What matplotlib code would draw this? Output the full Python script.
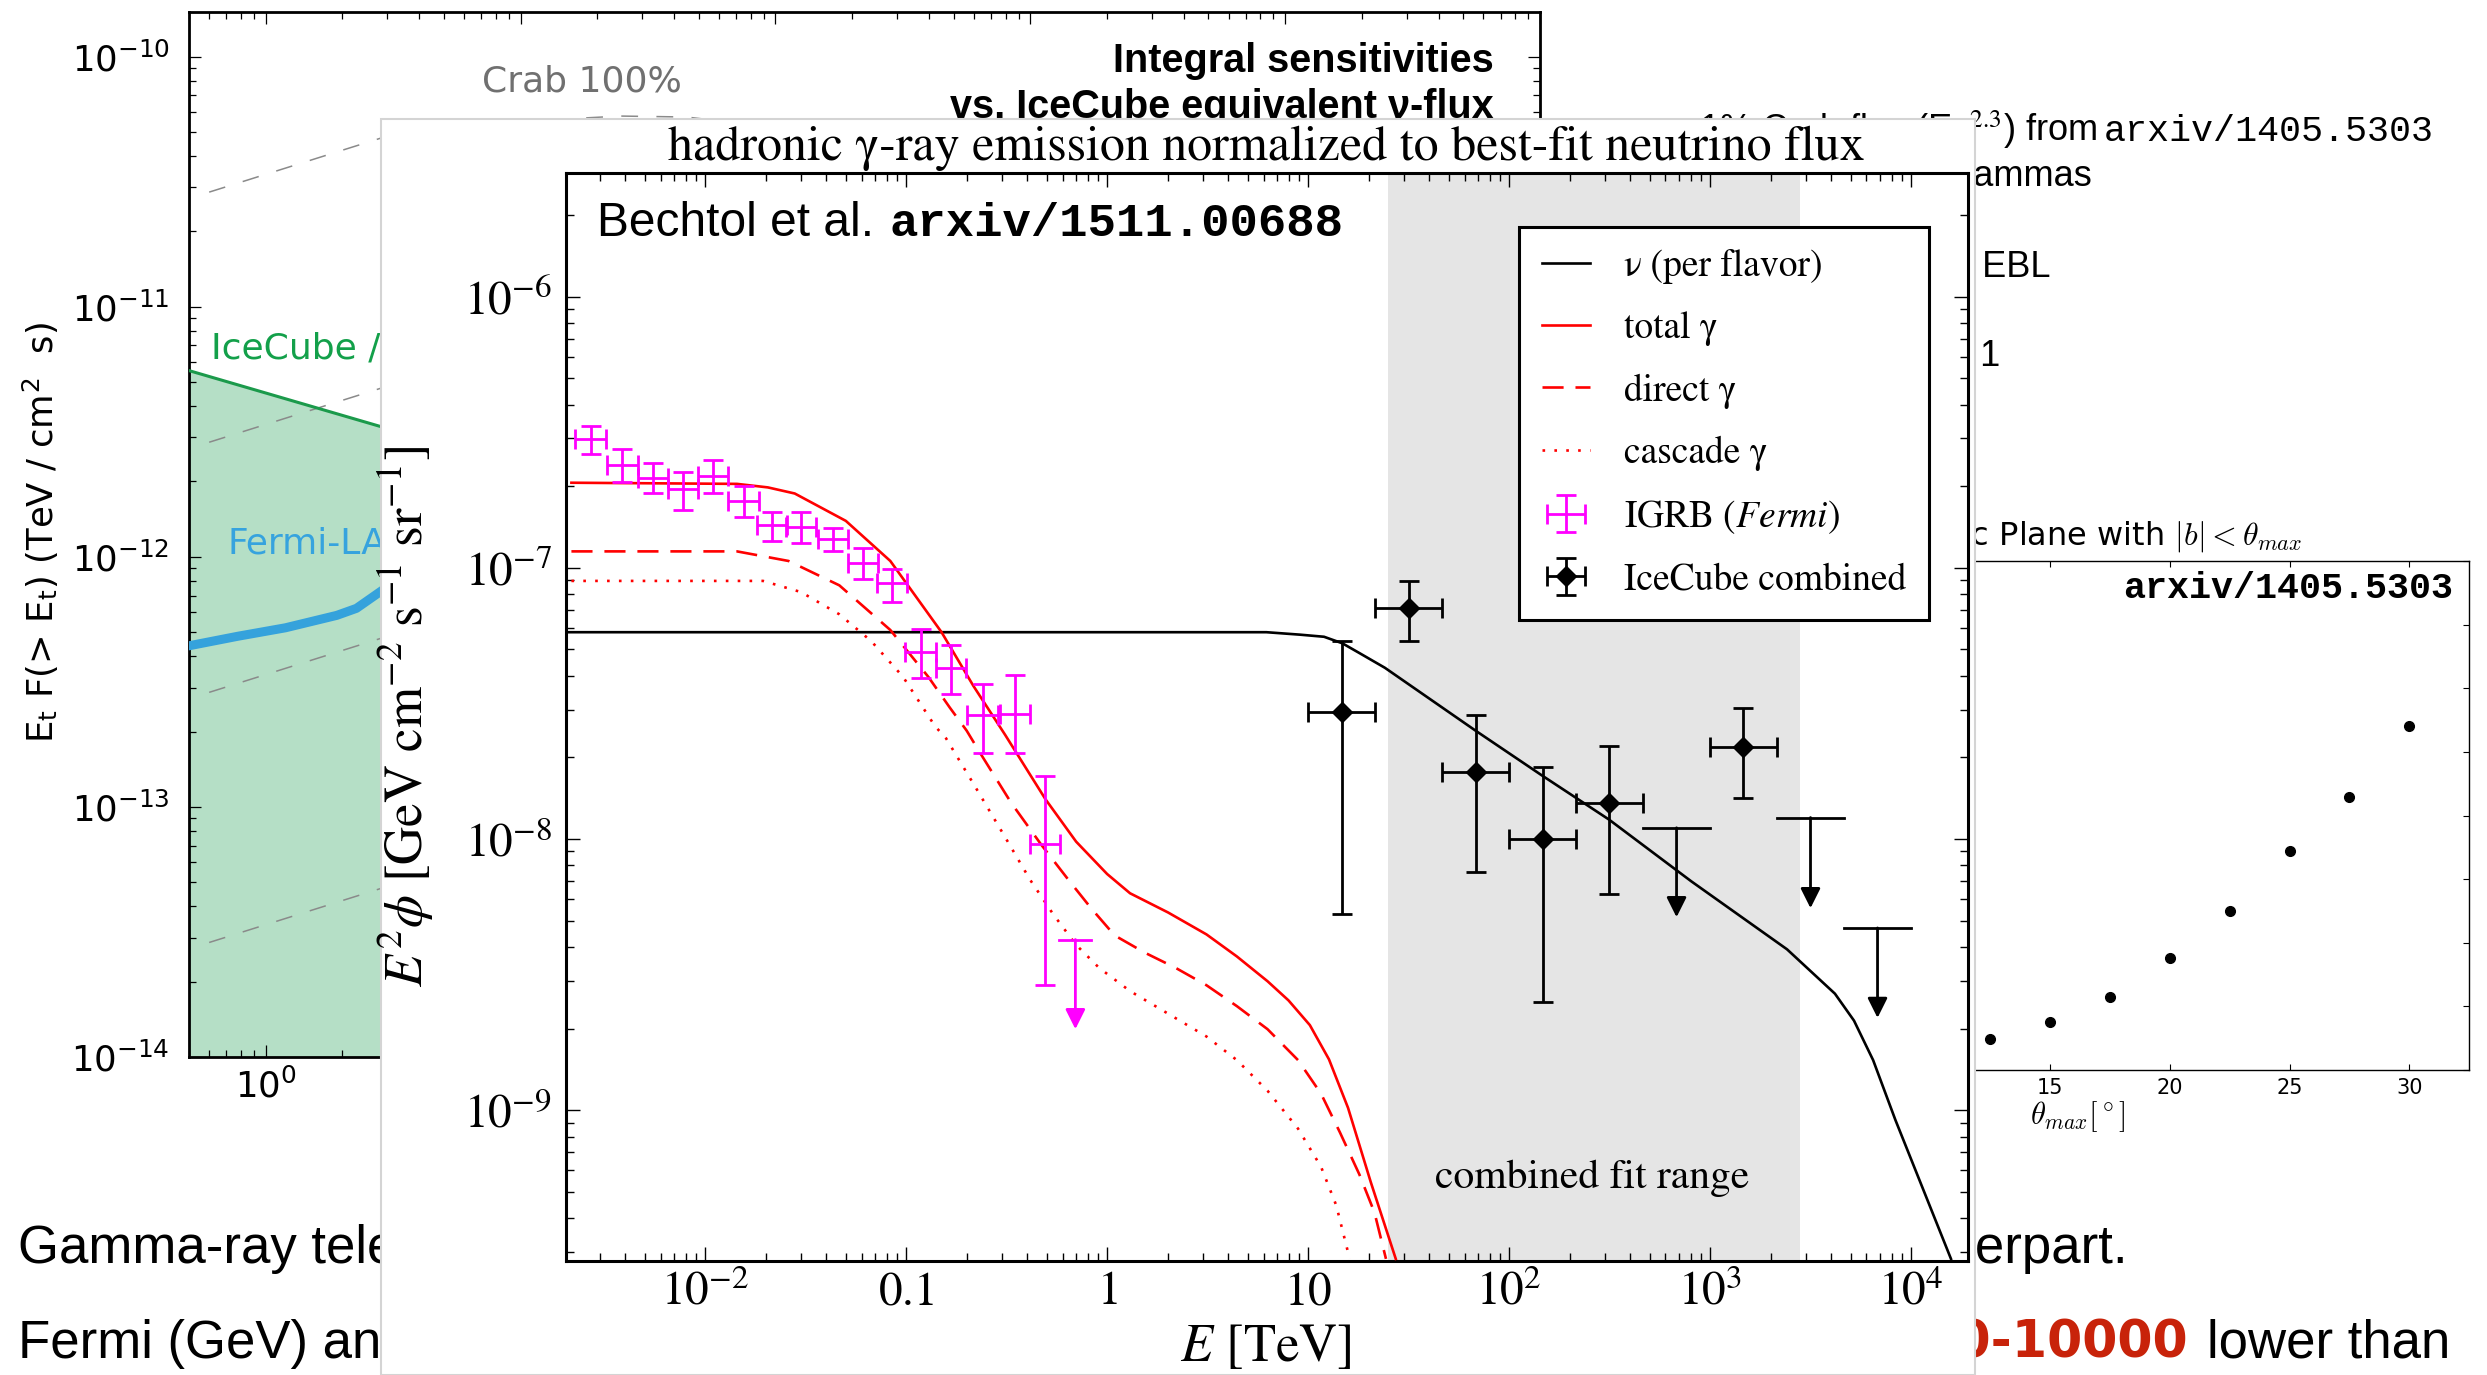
import numpy as np
import matplotlib
matplotlib.use("Agg")
import matplotlib.pyplot as plt
from matplotlib.patches import Rectangle
from matplotlib.ticker import FixedLocator, FixedFormatter, LogLocator, NullFormatter, MultipleLocator

# ---------------- data: background chart (integral sensitivities) ----------------
crab_E = [0.6, 2.87, 7.36, 24.7, 44.8, 100, 1000, 10000, 100000]
crab_F = [2.87e-11, 4.74e-11, 5.42e-11, 5.78e-11, 5.73e-11, 5.2e-11, 3.0e-11, 1.2e-11, 4e-12]
crab_fractions = [1.0, 0.1, 0.01, 0.001]
icecube_E = [0.5, 2.87, 100000]
icecube_F = [5.55e-12, 3.30e-12, 1.5e-13]
fermi_E = [0.508, 0.777, 1.195, 1.90, 2.27, 2.87, 10, 100]
fermi_F = [4.42e-13, 4.81e-13, 5.2e-13, 5.83e-13, 6.22e-13, 7.35e-13, 1.6e-12, 5e-12]
left_yticks = [1e-14, 1e-13, 1e-12, 1e-11, 1e-10]
left_yticklabels = [r"$\mathregular{10^{-14}}$", r"$\mathregular{10^{-13}}$", r"$\mathregular{10^{-12}}$",
                    r"$\mathregular{10^{-11}}$", r"$\mathregular{10^{-10}}$"]
left_xticks = [1, 10, 100, 1000, 10000, 100000]
left_xticklabels = [r"$\mathregular{10^{0}}$", r"$\mathregular{10^{1}}$", r"$\mathregular{10^{2}}$",
                    r"$\mathregular{10^{3}}$", r"$\mathregular{10^{4}}$", r"$\mathregular{10^{5}}$"]

# ---------------- data: front chart (Bechtol et al.) ----------------
nu_E = [0.002, 1.0, 6.2, 9.12, 12.0, 14.8, 18.0, 24.1, 68.1, 145, 314, 807, 2415, 4180, 5200, 6475, 8360, 15800]
nu_v = [5.79e-8, 5.79e-8, 5.79e-8, 5.67e-8, 5.57e-8, 5.27e-8, 4.85e-8, 4.28e-8, 2.51e-8, 1.72e-8, 1.18e-8,
        6.98e-9, 3.92e-9, 2.69e-9, 2.14e-9, 1.53e-9, 9.2e-10, 2.83e-10]
tot_E = [0.00216, 0.0144, 0.0205, 0.0279, 0.0501, 0.0834, 0.150, 0.216, 0.311, 0.494, 0.701, 1.0, 1.30, 2.01,
         3.12, 4.42, 6.28, 7.99, 10.2, 12.7, 15.8, 20.5, 27.3]
tot_v = [2.06e-7, 2.04e-7, 1.98e-7, 1.88e-7, 1.49e-7, 1.06e-7, 5.79e-8, 3.67e-8, 2.42e-8, 1.40e-8, 9.78e-9,
         7.43e-9, 6.31e-9, 5.36e-9, 4.45e-9, 3.69e-9, 2.99e-9, 2.54e-9, 2.06e-9, 1.54e-9, 1.02e-9, 5.43e-10, 2.83e-10]
dir_E = [0.00216, 0.0144, 0.0260, 0.0465, 0.0834, 0.129, 0.165, 0.200, 0.234, 0.333, 0.473, 0.643, 0.835, 1.09,
         1.54, 2.19, 3.12, 4.42, 6.28, 8.91, 11.6, 14.4, 18.0, 21.4, 24.4]
dir_v = [1.15e-7, 1.15e-7, 1.06e-7, 8.62e-8, 5.90e-8, 3.96e-8, 3.05e-8, 2.51e-8, 2.07e-8, 1.36e-8, 9.47e-9,
         7.06e-9, 5.54e-9, 4.41e-9, 3.81e-9, 3.35e-9, 2.89e-9, 2.42e-9, 1.99e-9, 1.53e-9, 1.15e-9, 8.28e-10,
         5.79e-10, 4.19e-10, 2.83e-10]
cas_E = [0.00216, 0.0194, 0.030, 0.0465, 0.067, 0.0966, 0.139, 0.158, 0.216, 0.305, 0.414, 0.539, 0.701, 0.912,
         1.30, 2.01, 3.12, 4.42, 6.28, 8.91, 11.6, 13.8, 16.1]
cas_v = [8.95e-8, 8.95e-8, 8.14e-8, 6.74e-8, 5.37e-8, 3.96e-8, 2.61e-8, 2.35e-8, 1.60e-8, 1.04e-8, 7.07e-9,
         5.28e-9, 4.07e-9, 3.35e-9, 2.75e-9, 2.27e-9, 1.87e-9, 1.53e-9, 1.18e-9, 8.55e-10, 6.18e-10, 4.46e-10, 2.83e-10]

igrb_E = [0.00269, 0.00387, 0.00550, 0.00776, 0.01094, 0.01553, 0.0215, 0.0300, 0.0431, 0.0609, 0.0851,
          0.118, 0.167, 0.240, 0.348, 0.490]
igrb_v = [2.98e-7, 2.40e-7, 2.14e-7, 1.95e-7, 2.18e-7, 1.77e-7, 1.44e-7, 1.41e-7, 1.28e-7, 1.04e-7, 8.79e-8,
          4.89e-8, 4.28e-8, 2.86e-8, 2.90e-8, 9.62e-9]
igrb_hi = [3.33e-7, 2.74e-7, 2.44e-7, 2.26e-7, 2.49e-7, 2.01e-7, 1.61e-7, 1.60e-7, 1.40e-7, 1.18e-7, 9.91e-8,
           5.97e-8, 5.21e-8, 3.74e-8, 4.04e-8, 1.71e-8]
igrb_lo = [2.64e-7, 2.08e-7, 1.88e-7, 1.64e-7, 1.88e-7, 1.54e-7, 1.26e-7, 1.23e-7, 1.15e-7, 9.06e-8, 7.50e-8,
           3.93e-8, 3.43e-8, 2.07e-8, 2.07e-8, 2.89e-9]
igrb_half_bin = 1.19          # half bin width as a factor in energy
igrb_ul_E, igrb_ul_v, igrb_ul_tip = 0.695, 4.26e-9, 1.99e-9
igrb_ul_Elo, igrb_ul_Ehi = 0.575, 0.835

ic_E = [14.7, 31.6, 68.1, 147, 314, 1460]
ic_v = [2.93e-8, 7.14e-8, 1.77e-8, 1.00e-8, 1.36e-8, 2.18e-8]
ic_hi = [5.39e-8, 8.95e-8, 2.87e-8, 1.84e-8, 2.20e-8, 3.05e-8]
ic_lo = [5.31e-9, 5.39e-8, 7.53e-9, 2.50e-9, 6.25e-9, 1.42e-8]
ic_Elo = [10.0, 21.5, 46.4, 100, 215, 1000]
ic_Ehi = [21.5, 46.4, 100, 215, 464, 2150]
ic_ul_E = [681, 3160, 6810]
ic_ul_v = [1.10e-8, 1.20e-8, 4.70e-9]
ic_ul_tip = [5.15e-9, 5.56e-9, 2.19e-9]
ic_ul_Elo = [464, 2150, 4640]
ic_ul_Ehi = [1000, 4640, 10000]
fit_range = [25, 2800]

front_xticks = [1e-2, 1e-1, 1, 10, 1e2, 1e3, 1e4]
front_xticklabels = [r"$10^{-2}$", r"$0.1$", r"$1$", r"$10$", r"$10^{2}$", r"$10^{3}$", r"$10^{4}$"]
front_yticks = [1e-9, 1e-8, 1e-7, 1e-6]
front_yticklabels = [r"$10^{-9}$", r"$10^{-8}$", r"$10^{-7}$", r"$10^{-6}$"]
legend_labels = [u"\u03bd (per flavor)", u"total \u03b3", u"direct \u03b3", u"cascade \u03b3",
                 r"IGRB ($\mathit{Fermi}$)", "IceCube combined"]

# ---------------- data: right chart (arxiv/1405.5303) ----------------
theta_max = [12.5, 15, 17.5, 20, 22.5, 25, 27.5, 30]
theta_vals = [0.495, 0.752, 1.155, 1.755, 2.505, 3.439, 4.295, 5.403]
right_xticks = [0, 5, 10, 15, 20, 25, 30]
right_xticklabels = ["", "", "", "15", "20", "25", "30"]

# ---------------- layout helpers ----------------
W, H, DPI = 2487, 1375, 100


def fx(px):
    return px / W


def fy(py):
    return 1.0 - py / H


def box(l, t, r, b):
    return [fx(l), fy(b), fx(r) - fx(l), fy(t) - fy(b)]


plt.rcParams["font.family"] = ["DejaVu Sans"]
plt.rcParams["mathtext.fontset"] = "stix"
SERIF = "STIXGeneral"
SANS = "Liberation Sans"
MONO = "Liberation Mono"

fig = plt.figure(figsize=(W / DPI, H / DPI), dpi=DPI)
fig.patch.set_facecolor("white")

# ================= background left chart =================
axL = fig.add_axes(box(189, 12, 1540, 1057), zorder=0)
axL.set_xscale("log")
axL.set_yscale("log")
axL.fill_between(icecube_E, icecube_F, 1e-14, color="#b5dfc6", lw=0, zorder=1)
for frac in crab_fractions:
    axL.plot(crab_E, [v * frac for v in crab_F], color="#8a8a8a", lw=1.1, dashes=(11, 12), zorder=2)
axL.plot(icecube_E, icecube_F, color="#1b9a4b", lw=2.2, zorder=3)
axL.plot(fermi_E, fermi_F, color="#35a2dc", lw=6.5, zorder=3)
axL.set_xlim(0.5, 1e5)
axL.set_ylim(1e-14, 10 ** -9.822)
axL.yaxis.set_major_locator(FixedLocator(left_yticks))
axL.yaxis.set_major_formatter(FixedFormatter(left_yticklabels))
axL.yaxis.set_minor_locator(LogLocator(10, subs=np.arange(2, 10), numticks=50))
axL.yaxis.set_minor_formatter(NullFormatter())
axL.xaxis.set_major_locator(FixedLocator(left_xticks))
axL.xaxis.set_major_formatter(FixedFormatter(left_xticklabels))
axL.xaxis.set_minor_locator(LogLocator(10, subs=np.arange(2, 10), numticks=50))
axL.xaxis.set_minor_formatter(NullFormatter())
axL.tick_params(which="both", direction="in", top=True, right=True, width=0.9)
axL.tick_params(which="major", length=8.6, labelsize=25.5)
axL.tick_params(which="minor", length=4.8)
axL.tick_params(axis="y", which="major", pad=14)
axL.tick_params(axis="x", which="major", pad=8)
for s in axL.spines.values():
    s.set_linewidth(2)

fig.text(fx(40), fy(532), r"E$_\mathregular{t}$ F(> E$_\mathregular{t}$) (TeV / cm$^\mathregular{2}$  s)",
         rotation=90, ha="center", va="center", fontsize=25.5, zorder=1)
fig.text(fx(482), fy(82), "Crab 100%", color="#707070", fontsize=26, ha="left", va="center", zorder=1)
fig.text(fx(211), fy(348), "IceCube / IceCube-Gen2", color="#13a04a", fontsize=26, ha="left", va="center", zorder=1)
fig.text(fx(228), fy(543), "Fermi-LAT", color="#36a3de", fontsize=26, ha="left", va="center", zorder=1)
fig.text(fx(1494), fy(72), "Integral sensitivities", family=SANS, weight="bold", fontsize=28.5,
         ha="right", va="baseline", zorder=1)
fig.text(fx(1494), fy(118), u"vs. IceCube equivalent \u03bd-flux", family=SANS, weight="bold", fontsize=28.5,
         ha="right", va="baseline", zorder=1)

# ================= background right chart =================
axR = fig.add_axes(box(1690, 561, 2469.4, 1070), zorder=0)
axR.plot(theta_max, theta_vals, "o", color="k", ms=7)
axR.set_xlim(0, 32.5)
axR.set_ylim(0, 8)
axR.xaxis.set_major_locator(FixedLocator(right_xticks))
axR.xaxis.set_major_formatter(FixedFormatter(right_xticklabels))
axR.yaxis.set_major_locator(MultipleLocator(1))
axR.tick_params(which="both", direction="in", top=True, right=True, length=4.5, width=0.8,
                labelsize=15, pad=6)
axR.tick_params(axis="y", labelleft=False)
for s in axR.spines.values():
    s.set_linewidth(1.0)
fig.text(fx(2302), fy(545), r"Galactic Plane with $|b|<\theta_{max}$", fontsize=23, ha="right",
         va="baseline", math_fontfamily="cm", zorder=1)
fig.text(fx(2078), fy(1117), r"$\theta_{max}[^\circ]$", fontsize=22, ha="center", va="center",
         math_fontfamily="cm", zorder=1)
fig.text(fx(2453), fy(598), "arxiv/1405.5303", family=MONO, weight="bold", fontsize=26.5,
         ha="right", va="baseline", zorder=1)

# text of the slide behind the front panel
fig.text(fx(2097), fy(141), r"1% Crab flux (E$^{-2.3}$) from", family=SANS, fontsize=26,
         ha="right", va="baseline", zorder=1)
fig.text(fx(2104), fy(141), "arxiv/1405.5303", family=MONO, fontsize=26.5, ha="left", va="baseline", zorder=1)
fig.text(fx(2092), fy(186), "Galactic gammas", family=SANS, fontsize=26, ha="right", va="baseline", zorder=1)
fig.text(fx(2051), fy(277), "with EBL", family=SANS, fontsize=26, ha="right", va="baseline", zorder=1)
fig.text(fx(2000), fy(366), "n = 1", family=SANS, fontsize=26, ha="right", va="baseline", zorder=1)

fig.text(fx(18), fy(1263), "Gamma-ray telescopes can search for the gamma-ray", family=SANS, fontsize=38,
         ha="left", va="baseline", zorder=1)
fig.text(fx(2128), fy(1263), "counterpart.", family=SANS, fontsize=38, ha="right", va="baseline", zorder=1)
fig.text(fx(18), fy(1358), "Fermi (GeV) and IACTs (TeV) sensitivities are", family=SANS, fontsize=38,
         ha="left", va="baseline", zorder=1)
fig.text(fx(2188), fy(1358), "100-10000", family="DejaVu Sans", weight="bold", color="#c8230a", fontsize=36.5,
         ha="right", va="baseline", zorder=1)
fig.text(fx(2207), fy(1358), "lower than", family=SANS, fontsize=38, ha="left", va="baseline", zorder=1)

# ================= front panel =================
panel = Rectangle((fx(381), 0), fx(1975) - fx(381), fy(119), transform=fig.transFigure,
                  facecolor="white", edgecolor="#d4d4d4", lw=1.5, zorder=5)
fig.add_artist(panel)

axF = fig.add_axes(box(566, 173, 1968, 1261), zorder=10)
axF.set_xscale("log")
axF.set_yscale("log")
axF.axvspan(fit_range[0], fit_range[1], color="#e5e5e5", lw=0, zorder=0)
l_nu, = axF.plot(nu_E, nu_v, color="k", lw=1.9, zorder=3)
l_tot, = axF.plot(tot_E, tot_v, color="red", lw=1.9, zorder=3)
l_dir, = axF.plot(dir_E, dir_v, color="red", lw=1.9, dashes=(8, 4.5), zorder=3)
l_cas, = axF.plot(cas_E, cas_v, color="red", lw=1.9, dashes=(1, 3.5), zorder=3)

igrb_xerr = [[e - e / igrb_half_bin for e in igrb_E], [e * igrb_half_bin - e for e in igrb_E]]
igrb_yerr = [[v - lo for v, lo in zip(igrb_v, igrb_lo)], [hi - v for v, hi in zip(igrb_v, igrb_hi)]]
eb_igrb = axF.errorbar(igrb_E, igrb_v, xerr=igrb_xerr, yerr=igrb_yerr, fmt="none", ecolor="#ff00ff",
                       elinewidth=2, capsize=7.5, capthick=2, zorder=4)
axF.plot([igrb_ul_Elo, igrb_ul_Ehi], [igrb_ul_v, igrb_ul_v], color="#ff00ff", lw=2, zorder=4)
axF.annotate("", xy=(igrb_ul_E, igrb_ul_tip), xytext=(igrb_ul_E, igrb_ul_v),
             arrowprops=dict(arrowstyle="-|>", color="#ff00ff", lw=2, mutation_scale=30,
                             shrinkA=0, shrinkB=0), zorder=4)

ic_xerr = [[e - lo for e, lo in zip(ic_E, ic_Elo)], [hi - e for e, hi in zip(ic_E, ic_Ehi)]]
ic_yerr = [[v - lo for v, lo in zip(ic_v, ic_lo)], [hi - v for v, hi in zip(ic_v, ic_hi)]]
eb_ic = axF.errorbar(ic_E, ic_v, xerr=ic_xerr, yerr=ic_yerr, fmt="D", color="k", ms=10,
                     elinewidth=2, capsize=7.5, capthick=2, zorder=5)
for E, v, tip, lo, hi in zip(ic_ul_E, ic_ul_v, ic_ul_tip, ic_ul_Elo, ic_ul_Ehi):
    axF.plot([lo, hi], [v, v], color="k", lw=2, zorder=5)
    axF.annotate("", xy=(E, tip), xytext=(E, v),
                 arrowprops=dict(arrowstyle="-|>", color="k", lw=2, mutation_scale=30,
                                 shrinkA=0, shrinkB=0), zorder=5)

axF.set_xlim(0.00203, 1.92e4)
axF.set_ylim(10 ** -9.556, 10 ** -5.544)
axF.xaxis.set_major_locator(FixedLocator(front_xticks))
axF.xaxis.set_major_formatter(FixedFormatter(front_xticklabels))
axF.xaxis.set_minor_locator(LogLocator(10, subs=np.arange(2, 10), numticks=50))
axF.xaxis.set_minor_formatter(NullFormatter())
axF.yaxis.set_major_locator(FixedLocator(front_yticks))
axF.yaxis.set_major_formatter(FixedFormatter(front_yticklabels))
axF.yaxis.set_minor_locator(LogLocator(10, subs=np.arange(2, 10), numticks=50))
axF.yaxis.set_minor_formatter(NullFormatter())
axF.tick_params(which="both", direction="in", top=True, right=True, width=1.0)
axF.tick_params(which="major", length=10, labelsize=34)
axF.tick_params(which="minor", length=5.5)
axF.tick_params(axis="x", which="major", pad=6)
axF.tick_params(axis="y", which="major", pad=10)
for s in axF.spines.values():
    s.set_linewidth(2.2)

leg = axF.legend([l_nu, l_tot, l_dir, l_cas, eb_igrb, eb_ic], legend_labels, loc="upper right",
                 bbox_to_anchor=(0.9722, 0.9504), borderaxespad=0, prop={"family": SERIF, "size": 27},
                 frameon=True, fancybox=False, edgecolor="k", framealpha=1, handlelength=1.3,
                 handletextpad=0.9, labelspacing=0.72, borderpad=0.6)
leg.get_frame().set_linewidth(2.2)

fig.text(fx(1266), fy(160), u"hadronic \u03b3-ray emission normalized to best-fit neutrino flux",
         family=SERIF, fontsize=36, ha="center", va="baseline", zorder=11)
fig.text(fx(597), fy(236), "Bechtol et al.", family=SANS, fontsize=34.5, ha="left", va="baseline", zorder=11)
fig.text(fx(890), fy(236), "arxiv/1511.00688", family=MONO, weight="bold", fontsize=34,
         ha="left", va="baseline", zorder=11)
fig.text(fx(1592), fy(1188), "combined fit range", family=SERIF, fontsize=30, ha="center",
         va="baseline", zorder=11)
fig.text(fx(406), fy(717), r"$E^2\phi$ [GeV cm$^{-2}$ s$^{-1}$ sr$^{-1}$]", family=SERIF, fontsize=38,
         rotation=90, ha="center", va="center", zorder=11)
fig.text(fx(1266), fy(1348), r"$E$ [TeV]", family=SERIF, fontsize=38, ha="center", va="center", zorder=11)

fig.savefig("out.png", dpi=DPI)
